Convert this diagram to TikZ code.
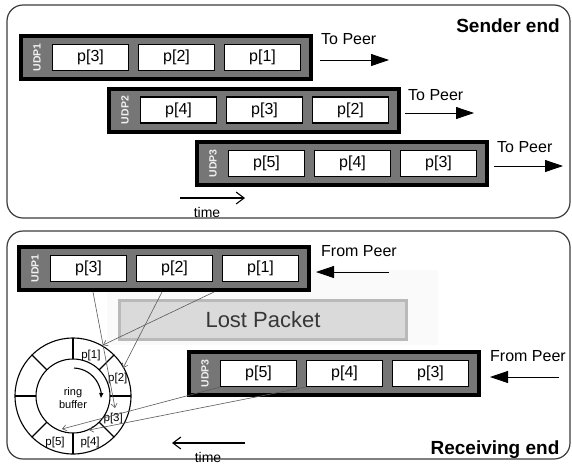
\documentclass[tikz,border=0pt]{standalone}
\usepackage{fontspec}
\setmainfont{Liberation Sans}
\usetikzlibrary{arrows.meta,calc}
\definecolor{udpgray}{RGB}{118,118,118}
\definecolor{panelline}{RGB}{60,60,60}
\definecolor{lostfill}{RGB}{218,218,218}
\definecolor{lostline}{RGB}{185,185,185}
\definecolor{losttext}{RGB}{55,55,55}
\definecolor{connline}{RGB}{90,90,90}
\tikzset{
  panel/.style={draw=panelline, line width=1.2pt, rounded corners=16pt},
  udp/.style={draw=black, line width=4pt, fill=udpgray, minimum width=290pt, minimum height=43pt, inner sep=0pt},
  udplab/.style={rotate=90, font=\bfseries\fontsize{10.5}{10.5}\selectfont, text=gray!12, inner sep=0pt},
  pbox/.style={draw=black, line width=1.1pt, fill=white, minimum width=76pt, minimum height=26pt, inner sep=0pt, font=\fontsize{16}{18}\selectfont},
  peerlab/.style={anchor=west, inner sep=0pt, font=\fontsize{16}{18}\selectfont},
  peerarrow/.style={line width=0.8pt, -{Triangle[length=18pt,width=12pt]}},
  timearrow/.style={line width=1.1pt, -{Straight Barb[length=8pt,width=12pt,line width=1.1pt]}},
  timelab/.style={inner sep=0pt, font=\fontsize{14}{16}\selectfont},
  endlab/.style={inner sep=0pt, font=\bfseries\fontsize{19}{21}\selectfont},
  ringline/.style={line width=1.1pt, draw=black},
  slotlab/.style={inner sep=1pt, font=\fontsize{11.5}{12}\selectfont},
  conn/.style={draw=connline, line width=0.6pt, -{Straight Barb[length=4pt,width=6pt,line width=0.6pt]}},
}
\newcommand\udpblk[7]{%
  \node[udp] (#1) at (#2+147,#3) {};
  \node[udplab] (#1l) at (#2+18,#3) {#4};
  \node[pbox] (#1a) at (#2+71.5,#3) {#5};
  \node[pbox] (#1b) at (#2+157.5,#3) {#6};
  \node[pbox] (#1c) at (#2+243.5,#3) {#7};
}
\begin{document}
\begin{tikzpicture}[x=1pt,y=-1pt]
\useasboundingbox (0,0) rectangle (572,464);
\fill[white] (0,0) rectangle (572,464);
% panels
\draw[panel] (7,5) rectangle (570,218);
\draw[panel] (7,231) rectangle (570,459);
% ---------------- sender end ----------------
\node[endlab] (sender) at (508,26) {Sender end};
\udpblk{aone}{19}{57.5}{UDP1}{p[3]}{p[2]}{p[1]}
\udpblk{atwo}{107}{110}{UDP2}{p[4]}{p[3]}{p[2]}
\udpblk{athree}{195}{163.5}{UDP3}{p[5]}{p[4]}{p[3]}
\node[peerlab] (tp1) at (321,39) {To Peer};
\node[peerlab] (tp2) at (408,95) {To Peer};
\node[peerlab] (tp3) at (497,147) {To Peer};
\coordinate (tp1s) at (320,60); \coordinate (tp1e) at (389,60);
\coordinate (tp2s) at (405,113); \coordinate (tp2e) at (474,113);
\coordinate (tp3s) at (494,166); \coordinate (tp3e) at (563,166);
\draw[peerarrow] (tp1s) -- (tp1e);
\draw[peerarrow] (tp2s) -- (tp2e);
\draw[peerarrow] (tp3s) -- (tp3e);
\coordinate (ts1) at (180,198); \coordinate (te1) at (245,198);
\draw[timearrow] (ts1) -- (te1);
\node[timelab] (time1) at (207,212) {time};
% ---------------- receiving end ----------------
\fill[gray!4] (107,270) rectangle (438,345);
\node[endlab] (recv) at (495,450) {Receiving end};
\node[draw=lostline, line width=3pt, fill=lostfill, minimum width=287pt, minimum height=39pt, inner sep=0pt,
      text=losttext, font=\fontsize{22}{24}\selectfont] (lost) at (263,320) {Lost Packet};
\udpblk{bone}{17}{268.5}{UDP1}{p[3]}{p[2]}{p[1]}
\udpblk{bthree}{187}{373.5}{UDP3}{p[5]}{p[4]}{p[3]}
\node[peerlab] (fp1) at (321,251) {From Peer};
\node[peerlab] (fp2) at (490,356) {From Peer};
\coordinate (fp1s) at (389,272); \coordinate (fp1e) at (316,272);
\coordinate (fp2s) at (559,377); \coordinate (fp2e) at (490,377);
\draw[peerarrow] (fp1s) -- (fp1e);
\draw[peerarrow] (fp2s) -- (fp2e);
\coordinate (ts2) at (245,443); \coordinate (te2) at (172,443);
\draw[timearrow] (ts2) -- (te2);
\node[timelab] (time2) at (208,457) {time};
% ring buffer
\begin{scope}[shift={(73,396)}, y=1pt]
  \draw[ringline, fill=white] (0,0) circle[radius=58];
  \draw[ringline] (0,0) circle[radius=37];
  \foreach \a in {0,45,...,315} \draw[ringline] (\a:37) -- (\a:58);
  \node[inner sep=0pt, align=center, font=\fontsize{11}{12.5}\selectfont] (ringtxt) at (0,-2) {ring\\buffer};
  \draw[line width=1.1pt, -{Triangle[length=5pt,width=4pt]}] (88:28) arc[start angle=88, end angle=-4, radius=28];
  \node[slotlab] (s1) at (66:44) {p[1]};
  \node[slotlab] (s2) at (21:48) {p[2]};
  \node[slotlab] (s3) at (-29:46) {p[3]};
  \node[slotlab] (s4) at (-70:50) {p[4]};
  \node[slotlab] (s5) at (-111:50) {p[5]};
\end{scope}
% connectors
\coordinate (c3) at (93,292);
\coordinate (c2) at (162,292);
\coordinate (c1) at (214,292);
\coordinate (t1) at (103,345);
\coordinate (t2) at (123,368);
\coordinate (t3) at (115,408);
\coordinate (t4) at (89,430);
\coordinate (t5) at (62,429);
\draw[conn] (c3) -- (t3);
\draw[conn] (c2) -- (t2);
\draw[conn] (c1) -- (t1);
\draw[conn] (bthreea.south west) -- (t5);
\draw[conn] (bthreeb.south west) -- (t4);
\end{tikzpicture}
\end{document}
